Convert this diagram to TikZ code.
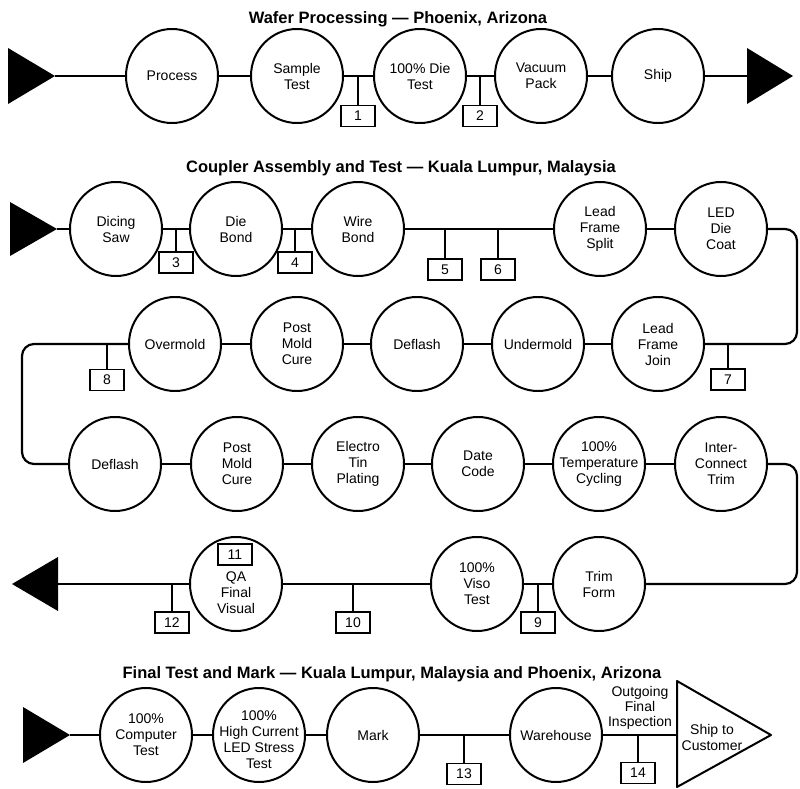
\documentclass[tikz,border=0pt]{standalone}
\usepackage{fontspec}
\setmainfont{Liberation Sans}
\usetikzlibrary{shapes.geometric}
\tikzset{
  proc/.style={ellipse, draw, line width=2pt, minimum width=92pt, minimum height=94pt, inner sep=0pt},
  ptxt/.style={font=\fontsize{14}{16}\selectfont, align=center, inner sep=0pt},
  conn/.style={line width=2.2pt},
  tickline/.style={line width=2pt},
  numbox/.style={draw, line width=1.3pt, minimum width=34pt, minimum height=21pt, inner sep=0pt, font=\fontsize{14}{16}\selectfont},
  ttl/.style={font=\bfseries\fontsize{16.5}{18}\selectfont, anchor=base, inner sep=0pt},
  arrowtri/.style={fill=black},
}
\begin{document}
\begin{tikzpicture}[x=1pt,y=-1pt]
\fill[white] (0,0) rectangle (800,789);
\useasboundingbox (0,0) rectangle (800,789);

% ---------- Row 1 ----------
\node[ttl] (title1) at (398,24) {Wafer Processing — Phoenix, Arizona};
\fill[arrowtri] (8,48) -- (55,76) -- (8,104) -- cycle;
\coordinate (a1) at (55,76);
\node[proc, label={[ptxt]center:Process}] (p1) at (172,76) {};
\node[proc, label={[ptxt]center:Sample\\Test}] (p2) at (297,76) {};
\node[proc, label={[ptxt]center:100\% Die\\Test}] (p3) at (420,76) {};
\node[proc, label={[ptxt]center:Vacuum\\Pack}] (p4) at (541,76) {};
\node[proc, label={[ptxt]center:Ship}] (p5) at (658,76) {};
\fill[arrowtri] (747,48) -- (793,76) -- (747,104) -- cycle;
\coordinate (a2) at (747,76);
\draw[conn] (a1) -- (p1) (p1) -- (p2) (p2) -- (p3) (p3) -- (p4) (p4) -- (p5) (p5) -- (a2);
\coordinate (t1) at (358,76);
\coordinate (t2) at (480,76);
\node[numbox] (b1) at (358,116) {1};
\node[numbox] (b2) at (480,116) {2};
\draw[tickline] (t1) -- (b1.north);
\draw[tickline] (t2) -- (b2.north);

% ---------- Row 2 ----------
\node[ttl] (title2) at (401,172) {Coupler Assembly and Test — Kuala Lumpur, Malaysia};
\fill[arrowtri] (10,202) -- (57,229) -- (10,256) -- cycle;
\coordinate (a3) at (57,229);
\node[proc, label={[ptxt]center:Dicing\\Saw}] (q1) at (116,229) {};
\node[proc, label={[ptxt]center:Die\\Bond}] (q2) at (236,229) {};
\node[proc, label={[ptxt]center:Wire\\Bond}] (q3) at (358,229) {};
\node[proc, label={[ptxt]center:Lead\\Frame\\Split}] (q4) at (600,229) {};
\node[proc, label={[ptxt]center:LED\\Die\\Coat}] (q5) at (721,229) {};
\draw[conn] (a3) -- (q1) (q1) -- (q2) (q2) -- (q3) (q3) -- (q4) (q4) -- (q5);
\coordinate (t3) at (176,229);
\coordinate (t4) at (295,229);
\coordinate (t5) at (445,229);
\coordinate (t6) at (498,229);
\node[numbox] (b3) at (176,262.5) {3};
\node[numbox] (b4) at (295,262.5) {4};
\node[numbox] (b5) at (445,269.5) {5};
\node[numbox] (b6) at (498,269.5) {6};
\draw[tickline] (t3) -- (b3.north);
\draw[tickline] (t4) -- (b4.north);
\draw[tickline] (t5) -- (b5.north);
\draw[tickline] (t6) -- (b6.north);

% ---------- Row 3 ----------
\node[proc, label={[ptxt]center:Lead\\Frame\\Join}] (r1) at (658,344) {};
\node[proc, label={[ptxt]center:Undermold}] (r2) at (538,344) {};
\node[proc, label={[ptxt]center:Deflash}] (r3) at (417,344) {};
\node[proc, label={[ptxt]center:Post\\Mold\\Cure}] (r4) at (297,344) {};
\node[proc, label={[ptxt]center:Overmold}] (r5) at (175,344) {};
\coordinate (c1) at (797,229);
\coordinate (c2) at (797,344);
\draw[conn, rounded corners=12pt] (q5) -- (c1) -- (c2) -- (r1);
\draw[conn] (r1) -- (r2) (r2) -- (r3) (r3) -- (r4) (r4) -- (r5);
\coordinate (t7) at (728,344);
\coordinate (t8) at (107,344);
\node[numbox] (b7) at (728,379.5) {7};
\node[numbox] (b8) at (107,380) {8};
\draw[tickline] (t7) -- (b7.north);
\draw[tickline] (t8) -- (b8.north);

% ---------- Row 4 ----------
\node[proc, label={[ptxt]center:Deflash}] (s1) at (115,464) {};
\node[proc, label={[ptxt]center:Post\\Mold\\Cure}] (s2) at (237,464) {};
\node[proc, label={[ptxt]center:Electro\\Tin\\Plating}] (s3) at (358,464) {};
\node[proc, label={[ptxt]center:Date\\Code}] (s4) at (478,464) {};
\node[proc, label={[ptxt]center:100\%\\Temperature\\Cycling}] (s5) at (599,464) {};
\node[proc, label={[ptxt]center:Inter-\\Connect\\Trim}] (s6) at (721,464) {};
\coordinate (c3) at (22,344);
\coordinate (c4) at (22,464);
\draw[conn, rounded corners=12pt] (r5) -- (c3) -- (c4) -- (s1);
\draw[conn] (s1) -- (s2) (s2) -- (s3) (s3) -- (s4) (s4) -- (s5) (s5) -- (s6);

% ---------- Row 5 ----------
\node[proc, label={[ptxt]center:Trim\\Form}] (u1) at (599,584) {};
\node[proc, label={[ptxt]center:100\%\\Viso\\Test}] (u2) at (477,584) {};
\node[proc, label={[ptxt,yshift=-9pt]center:QA\\Final\\Visual}] (u3) at (236,584) {};
\coordinate (c5) at (797,464);
\coordinate (c6) at (797,584);
\draw[conn, rounded corners=12pt] (s6) -- (c5) -- (c6) -- (u1);
\fill[arrowtri] (58,557) -- (12,584) -- (58,611) -- cycle;
\coordinate (a4) at (58,584);
\draw[conn] (u1) -- (u2) (u2) -- (u3) (u3) -- (a4);
\coordinate (t9) at (538,584);
\coordinate (t10) at (353,584);
\coordinate (t12) at (172,584);
\node[numbox] (b9) at (538,622.5) {9};
\node[numbox] (b10) at (353,622.5) {10};
\node[numbox] (b12) at (172,622.5) {12};
\node[numbox] (b11) at (235,554.5) {11};
\draw[tickline] (t9) -- (b9.north);
\draw[tickline] (t10) -- (b10.north);
\draw[tickline] (t12) -- (b12.north);

% ---------- Row 6 ----------
\node[ttl] (title3) at (392,678) {Final Test and Mark — Kuala Lumpur, Malaysia and Phoenix, Arizona};
\fill[arrowtri] (23,707) -- (70,735) -- (23,763) -- cycle;
\coordinate (a5) at (70,735);
\node[proc, label={[ptxt]center:100\%\\Computer\\Test}] (v1) at (146,735) {};
\node[proc, label={[ptxt,yshift=-5pt]center:100\%\\High Current\\LED Stress\\Test}] (v2) at (259,735) {};
\node[proc, label={[ptxt]center:Mark}] (v3) at (373,735) {};
\node[proc, label={[ptxt]center:Warehouse}] (v4) at (556,735) {};
\draw[line width=2pt, line join=round] (677,681) -- (771,735) -- (677,787) -- cycle;
\coordinate (a6) at (677,735);
\node[ptxt] (ship) at (712,737) {Ship to\\Customer};
\node[ptxt, font=\fontsize{14}{15}\selectfont] (ofi) at (640,708) {Outgoing\\Final\\Inspection};
\draw[conn] (a5) -- (v1) (v1) -- (v2) (v2) -- (v3) (v3) -- (v4) (v4) -- (a6);
\coordinate (t13) at (464,735);
\coordinate (t14) at (638,735);
\node[numbox] (b13) at (464,774) {13};
\node[numbox] (b14) at (638,773) {14};
\draw[tickline] (t13) -- (b13.north);
\draw[tickline] (t14) -- (b14.north);
\end{tikzpicture}
\end{document}
